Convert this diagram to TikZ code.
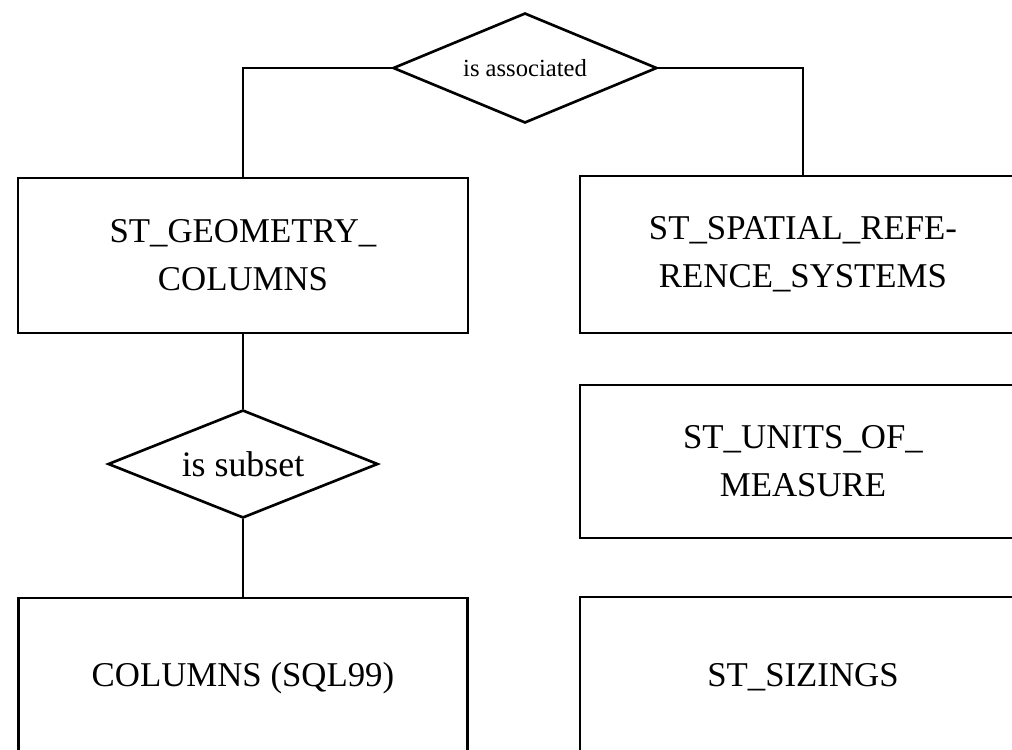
\documentclass[tikz,border=0pt]{standalone}
\usepackage{fontspec}
\setmainfont{Liberation Serif}
\usetikzlibrary{shapes,calc}

\begin{document}
\begin{tikzpicture}[
    entity/.style={draw,line width=0.75pt,rectangle,align=center,inner sep=0pt,
      font=\fontsize{9.9}{13.6}\selectfont},
    relation/.style={draw,line width=0.75pt,diamond,inner sep=0pt},
    link/.style={line width=0.75pt}]
  \useasboundingbox (0,0) rectangle (10.12,-7.50);
  \clip (0,0) rectangle (10.12,-7.50);
  \node[relation,aspect=2.4,minimum width=2.64cm,minimum height=1.10cm,font=\fontsize{7}{8}\selectfont] (R1) at (5.25,-0.68) {is associated};
  \node[entity,minimum width=4.50cm,minimum height=1.55cm] (E1) at ($(R1)+(-2.82,-1.875)$) {ST\_GEOMETRY\_\\COLUMNS};
  \node[entity,minimum width=4.46cm,minimum height=1.57cm] (E2) at ($(R1)+(2.78,-1.865)$) {ST\_SPATIAL\_REFE-\\RENCE\_SYSTEMS};
  \node[entity,minimum width=4.46cm,minimum height=1.53cm] (E3) at ($(E2)+(0,-2.07)$) {ST\_UNITS\_OF\_\\MEASURE};
  \node[entity,minimum width=4.46cm,minimum height=1.60cm] (E4) at ($(E3)+(0,-2.155)$) {ST\_SIZINGS};
  \node[relation,aspect=2.5,minimum width=2.70cm,minimum height=1.08cm,font=\fontsize{10.2}{12}\selectfont] (R2) at ($(E1)+(0,-2.085)$) {is subset};
  \node[entity,minimum width=4.49cm,minimum height=1.60cm] (E5) at ($(R2)+(0,-2.14)$) {COLUMNS (SQL99)};

  \draw[link] (R1.west) -| (E1.north);
  \draw[link] (R1.east) -| (E2.north);
  \draw[link] (E1) -- (R2);
  \draw[link] (R2) -- (E5);
\end{tikzpicture}
\end{document}
